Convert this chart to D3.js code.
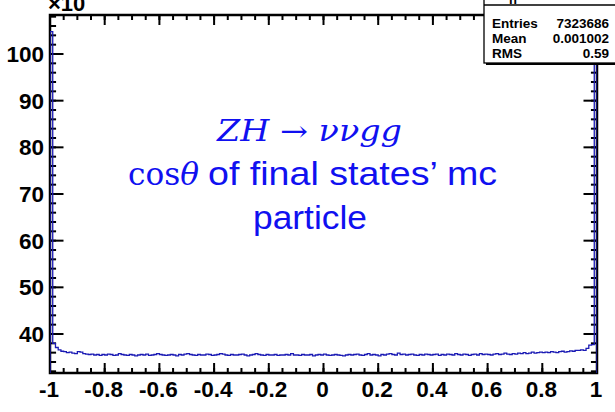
<!DOCTYPE html>
<html>
<head>
<meta charset="utf-8">
<script src="https://cdn.jsdelivr.net/npm/d3@7"></script>
<style>
  body { margin: 0; background: #ffffff; }
  svg { display: block; }
</style>
</head>
<body>
<div id="plot"></div>
<script>
////////////////////////////////////////////////////////////////////////
// Data: cos(theta) histogram, 200 bins over [-1, 1], values in units of 10^3

let binLow = -1;
let binHigh = 1;
let binCounts = [
  104.8, 38.0, 37.1, 36.6, 36.3, 36.2, 36.0, 36.1, 35.9, 35.8,
  36.2, 36.1, 35.8, 35.7, 35.6, 35.7, 35.5, 35.6, 35.4, 35.6,
  35.5, 35.7, 35.6, 35.4, 35.5, 35.8, 35.6, 35.5, 35.4, 35.6,
  35.5, 35.3, 35.5, 35.6, 35.5, 35.7, 35.4, 35.5, 35.6, 35.8,
  35.6, 35.5, 35.4, 35.5, 35.6, 35.5, 35.3, 35.6, 35.5, 35.7,
  35.8, 35.6, 35.5, 35.4, 35.6, 35.5, 35.5, 35.7, 35.6, 35.4,
  35.5, 35.6, 35.8, 35.7, 35.5, 35.4, 35.6, 35.5, 35.5, 35.6,
  35.7, 35.5, 35.3, 35.5, 35.6, 35.8, 35.6, 35.5, 35.4, 35.6,
  35.5, 35.5, 35.6, 35.4, 35.5, 35.5, 35.6, 35.5, 35.8, 35.5,
  35.5, 35.4, 35.6, 35.5, 35.5, 35.6, 35.3, 35.5, 35.6, 35.5,
  35.7, 35.5, 35.4, 35.5, 35.6, 35.5, 35.4, 35.3, 35.5, 35.6,
  35.5, 35.6, 35.7, 35.5, 35.4, 35.6, 35.8, 35.5, 35.6, 35.5,
  35.3, 35.6, 35.5, 35.7, 35.8, 35.6, 35.5, 35.9, 35.6, 35.7,
  35.5, 35.6, 35.7, 35.5, 35.4, 35.6, 35.5, 35.7, 35.6, 35.5,
  35.6, 35.7, 35.4, 35.6, 35.5, 35.7, 35.6, 35.5, 35.8, 35.6,
  35.5, 35.7, 35.6, 35.4, 35.6, 35.7, 35.5, 35.8, 35.6, 35.7,
  35.6, 35.5, 35.7, 35.8, 35.6, 35.7, 35.9, 35.7, 35.6, 35.8,
  35.7, 35.9, 35.8, 36.0, 35.8, 35.9, 36.1, 35.9, 36.0, 36.1,
  36.0, 36.1, 36.0, 36.2, 36.1, 36.0, 36.2, 36.3, 36.1, 36.2,
  36.4, 36.3, 36.5, 36.5, 36.6, 36.5, 36.9, 37.6, 37.7, 106.2
];

let xMajorTicks = [-1, -0.8, -0.6, -0.4, -0.2, 0, 0.2, 0.4, 0.6, 0.8, 1];
let xTickLabels = ["-1", "-0.8", "-0.6", "-0.4", "-0.2", "0", "0.2", "0.4", "0.6", "0.8", "1"];
let yMajorTicks = [40, 50, 60, 70, 80, 90, 100];

let statNames = ["Entries", "Mean", "RMS"];
let statValues = ["7323686", "0.001002", "0.59"];

////////////////////////////////////////////////////////////////////////
// Frame and scales

let width = 615, height = 412;
let frame = { left: 50, right: 597, top: 15, bottom: 373 };

let xScale = d3.scaleLinear().domain([binLow, binHigh]).range([frame.left, frame.right]);
let yScale = d3.scaleLinear().domain([31.64, 108.36]).range([frame.bottom, frame.top]);

let svg = d3.select("#plot").append("svg")
  .attr("width", width)
  .attr("height", height);

svg.append("defs").append("clipPath").attr("id", "frameClip")
  .append("rect")
  .attr("x", frame.left).attr("y", frame.top)
  .attr("width", frame.right - frame.left)
  .attr("height", frame.bottom - frame.top);

// minor ticks: x every 0.05, y every 2
let xMinor = d3.range(0, 41).map(i => -1 + i * 0.05);
let yMinor = d3.range(16, 55).map(i => i * 2).filter(v => v >= yScale.domain()[0] && v <= yScale.domain()[1]);

let ticks = svg.append("g")
  .attr("stroke", "black")
  .attr("stroke-width", 2);

function addTicks(values, isX, len) {
  values.forEach(function(v) {
    if (isX) {
      let x = xScale(v);
      ticks.append("line").attr("x1", x).attr("x2", x)
        .attr("y1", frame.bottom).attr("y2", frame.bottom - len);
      ticks.append("line").attr("x1", x).attr("x2", x)
        .attr("y1", frame.top).attr("y2", frame.top + len);
    } else {
      let y = yScale(v);
      ticks.append("line").attr("y1", y).attr("y2", y)
        .attr("x1", frame.left).attr("x2", frame.left + len * 1.35);
      ticks.append("line").attr("y1", y).attr("y2", y)
        .attr("x1", frame.right).attr("x2", frame.right - len * 1.35);
    }
  });
}
addTicks(xMinor, true, 5);
addTicks(xMajorTicks, true, 10);
addTicks(yMinor, false, 4.5);
addTicks(yMajorTicks, false, 10);

// axis frame
svg.append("rect")
  .attr("x", frame.left).attr("y", frame.top)
  .attr("width", frame.right - frame.left)
  .attr("height", frame.bottom - frame.top)
  .attr("fill", "none")
  .attr("stroke", "black")
  .attr("stroke-width", 2.5);

// tick labels
let labelFont = "'Liberation Sans', Arial, sans-serif";

svg.append("g").selectAll("text")
  .data(xMajorTicks)
  .enter().append("text")
  .attr("x", d => xScale(d) - 1)
  .attr("y", 397)
  .attr("text-anchor", "middle")
  .attr("font-family", labelFont)
  .attr("font-weight", "bold")
  .attr("font-size", 22.5)
  .text((d, i) => xTickLabels[i]);

svg.append("g").selectAll("text")
  .data(yMajorTicks)
  .enter().append("text")
  .attr("x", 44)
  .attr("y", d => yScale(d) + 8)
  .attr("text-anchor", "end")
  .attr("font-family", labelFont)
  .attr("font-weight", "bold")
  .attr("font-size", 22.5)
  .text(d => d);

// exponent label, partly cut off at the top of the window as in the original
svg.append("text")
  .attr("x", 48).attr("y", 11)
  .attr("font-family", labelFont)
  .attr("font-weight", "bold")
  .attr("font-size", 22)
  .text("×10");

////////////////////////////////////////////////////////////////////////
// Histogram outline (ROOT style steps)

let binWidth = (binHigh - binLow) / binCounts.length;
let path = d3.path();
path.moveTo(xScale(binLow), frame.bottom + 5);
binCounts.forEach(function(v, i) {
  path.lineTo(xScale(binLow + i * binWidth), yScale(v));
  path.lineTo(xScale(binLow + (i + 1) * binWidth), yScale(v));
});
path.lineTo(xScale(binHigh), frame.bottom + 5);

svg.append("path")
  .attr("clip-path", "url(#frameClip)")
  .attr("d", path.toString())
  .attr("fill", "none")
  .attr("stroke", "#1a1ab4")
  .attr("stroke-width", 1.3);

////////////////////////////////////////////////////////////////////////
// Stats box

let stats = svg.append("g");
stats.append("rect")
  .attr("x", 486).attr("y", -12)
  .attr("width", 140).attr("height", 77)
  .attr("fill", "black");
stats.append("rect")
  .attr("x", 484).attr("y", -14)
  .attr("width", 140).attr("height", 77)
  .attr("fill", "white")
  .attr("stroke", "black")
  .attr("stroke-width", 1.3);
stats.append("line")
  .attr("x1", 484).attr("x2", 615)
  .attr("y1", 5).attr("y2", 5)
  .attr("stroke", "black")
  .attr("stroke-width", 1.3);
stats.append("text")
  .attr("x", 509).attr("y", 4)
  .attr("font-family", labelFont)
  .attr("font-weight", "bold")
  .attr("font-size", 13)
  .text("h");

statNames.forEach(function(name, i) {
  stats.append("text")
    .attr("x", 492).attr("y", 28 + i * 15)
    .attr("font-family", labelFont)
    .attr("font-weight", "bold")
    .attr("font-size", 13.5)
    .text(name);
  stats.append("text")
    .attr("x", 609).attr("y", 28 + i * 15)
    .attr("text-anchor", "end")
    .attr("font-family", labelFont)
    .attr("font-weight", "bold")
    .attr("font-size", 13.5)
    .text(statValues[i]);
});

////////////////////////////////////////////////////////////////////////
// Annotation text in the middle

let blue = "#1010f0";
let mathFont = "'DejaVu Serif', 'Liberation Serif', serif";

svg.append("text")
  .attr("x", 217).attr("y", 141)
  .attr("font-family", mathFont)
  .attr("font-style", "italic")
  .attr("font-size", 29)
  .attr("fill", blue)
  .attr("textLength", 185)
  .attr("lengthAdjust", "spacingAndGlyphs")
  .text("ZH → ννgg");

let line2 = svg.append("text")
  .attr("x", 128).attr("y", 185)
  .attr("font-family", mathFont)
  .attr("font-size", 31)
  .attr("fill", blue)
  .attr("textLength", 71)
  .attr("lengthAdjust", "spacingAndGlyphs");
line2.append("tspan").text("cos");
line2.append("tspan").attr("font-style", "italic").text("θ");

svg.append("text")
  .attr("x", 208).attr("y", 185)
  .attr("font-family", labelFont)
  .attr("font-size", 34)
  .attr("fill", blue)
  .attr("textLength", 289)
  .attr("lengthAdjust", "spacingAndGlyphs")
  .text("of final states’ mc");

svg.append("text")
  .attr("x", 253).attr("y", 229)
  .attr("font-family", labelFont)
  .attr("font-size", 34)
  .attr("fill", blue)
  .attr("textLength", 114)
  .attr("lengthAdjust", "spacingAndGlyphs")
  .text("particle");
</script>
</body>
</html>
